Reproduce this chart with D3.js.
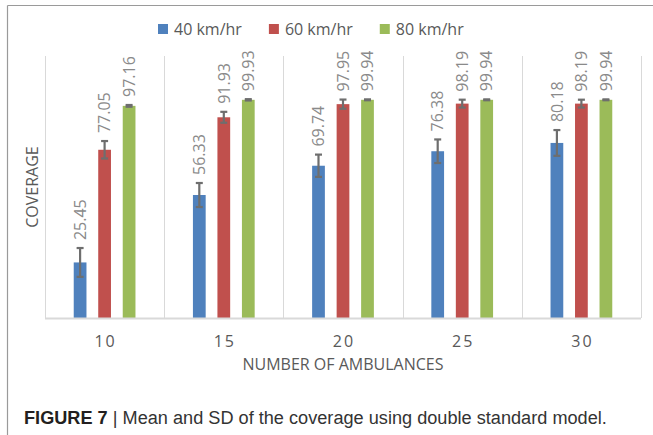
<!DOCTYPE html>
<html>
<head>
<meta charset="utf-8">
<script src="https://cdn.jsdelivr.net/npm/d3@7"></script>
<style>
  body { margin: 0; background: #fff; }
  svg { display: block; }
</style>
</head>
<body>
<script>
var categories = ["10", "15", "20", "25", "30"];
var seriesNames = ["40 km/hr", "60 km/hr", "80 km/hr"];
var speed40 = [25.45, 56.33, 69.74, 76.38, 80.18];
var speed60 = [77.05, 91.93, 97.95, 98.19, 98.19];
var speed80 = [97.16, 99.93, 99.94, 99.94, 99.94];
var sd40 = [6.6, 5.5, 5.1, 5.4, 5.9];
var sd60 = [4.0, 2.5, 2.1, 1.8, 1.8];
var sd80 = [0.4, 0.3, 0.2, 0.2, 0.2];
var colors = ["#4f81bd", "#c0504d", "#9bbb59"];

var w = 653;
var h = 435;
var plotLeft = 45, plotRight = 641, plotTop = 56, plotBottom = 318;

var means = [speed40, speed60, speed80];
var sds = [sd40, sd60, sd80];
var rows = [];
categories.forEach(function (c, i) {
    seriesNames.forEach(function (s, j) {
        rows.push({ cat: c, series: s, idx: j, value: means[j][i], sd: sds[j][i] });
    });
});

var svg = d3.select("body").append("svg").attr("width", w).attr("height", h);

// frame
svg.append("line").attr("x1", 7.5).attr("y1", 5.5).attr("x2", w).attr("y2", 5.5)
    .style("stroke", "#9a9a9a").style("stroke-width", 1.2);
svg.append("line").attr("x1", 7.5).attr("y1", 5.5).attr("x2", 7.5).attr("y2", h)
    .style("stroke", "#9a9a9a").style("stroke-width", 1.2);

var xScale = d3.scaleBand().domain(categories).range([plotLeft, plotRight]).padding(0);
var xInner = d3.scaleBand().domain(seriesNames).range([-36.75, 36.75]).paddingInner(0.48).paddingOuter(0.24);
var yScale = d3.scaleLinear().domain([0, 120]).range([plotBottom, plotTop]);

// vertical gridlines at category boundaries
var bounds = categories.map(function (c) { return xScale(c); }).concat([plotRight]);
svg.selectAll("line.grid")
    .data(bounds)
    .enter()
    .append("line")
    .attr("class", "grid")
    .attr("x1", function (d) { return Math.round(d) + 0.5; })
    .attr("x2", function (d) { return Math.round(d) + 0.5; })
    .attr("y1", plotTop)
    .attr("y2", plotBottom)
    .style("stroke", "#d9d9d9")
    .style("stroke-width", 1);

function barX(d) { return xScale(d.cat) + xScale.bandwidth() / 2 + xInner(d.series); }
function barC(d) { return barX(d) + xInner.bandwidth() / 2; }

// bars
svg.selectAll("rect.bar")
    .data(rows)
    .enter()
    .append("rect")
    .attr("class", "bar")
    .attr("x", barX)
    .attr("y", function (d) { return yScale(d.value); })
    .attr("width", xInner.bandwidth())
    .attr("height", function (d) { return plotBottom - yScale(d.value); })
    .attr("fill", function (d) { return colors[d.idx]; });

// x axis line
svg.append("line").attr("x1", plotLeft).attr("x2", plotRight).attr("y1", plotBottom + 0.5).attr("y2", plotBottom + 0.5)
    .style("stroke", "#d9d9d9").style("stroke-width", 2);

// error bars
var err = svg.append("g").attr("class", "err");
err.selectAll("line.stem")
    .data(rows)
    .enter()
    .append("line")
    .attr("class", "stem")
    .attr("x1", barC).attr("x2", barC)
    .attr("y1", function (d) { return yScale(d.value + d.sd); })
    .attr("y2", function (d) { return yScale(d.value - d.sd); })
    .style("stroke", "#6e6e6e").style("stroke-width", 2.2);
[["hi", 1], ["lo", -1]].forEach(function (p) {
    err.selectAll("line.cap-" + p[0])
        .data(rows)
        .enter()
        .append("line")
        .attr("class", "cap-" + p[0])
        .attr("x1", function (d) { return barC(d) - 3.5; })
        .attr("x2", function (d) { return barC(d) + 3.5; })
        .attr("y1", function (d) { return yScale(d.value + p[1] * d.sd); })
        .attr("y2", function (d) { return yScale(d.value + p[1] * d.sd); })
        .style("stroke", "#6e6e6e").style("stroke-width", 2.2);
});

// value labels
svg.selectAll("text.val")
    .data(rows)
    .enter()
    .append("text")
    .attr("class", "val")
    .attr("transform", function (d) {
        return "translate(" + barC(d) + "," + (yScale(d.value + d.sd) - 8) + ") rotate(-90)";
    })
    .attr("dy", "0.36em")
    .text(function (d) { return d.value.toFixed(2); })
    .attr("font-family", "Open Sans")
    .attr("font-size", "16px")
    .attr("fill", "#8a8a8a");

// x axis ticks
var xAxis = d3.axisBottom(xScale).tickSize(0).tickPadding(18);
var gx = svg.append("g").attr("transform", "translate(0," + plotBottom + ")").call(xAxis);
gx.select(".domain").remove();
gx.attr("font-family", "Open Sans").attr("font-size", "16px");
gx.selectAll("text")
    .attr("letter-spacing", "2px")
    .attr("dx", "1px")
    .attr("fill", "#595959");

// axis titles
svg.append("text")
    .attr("x", (plotLeft + plotRight) / 2)
    .attr("y", 370)
    .attr("text-anchor", "middle")
    .attr("font-family", "Open Sans")
    .attr("font-size", "16px")
    .attr("fill", "#595959")
    .text("NUMBER OF AMBULANCES");

svg.append("text")
    .attr("transform", "translate(38,187) rotate(-90)")
    .attr("text-anchor", "middle")
    .attr("font-family", "Open Sans")
    .attr("font-size", "16px")
    .attr("fill", "#595959")
    .text("COVERAGE");

// legend
var legend = svg.append("g");
var lx = 158;
seriesNames.forEach(function (s, j) {
    legend.append("rect").attr("x", lx).attr("y", 24).attr("width", 10).attr("height", 10).attr("fill", colors[j]);
    var t = legend.append("text")
        .attr("x", lx + 16)
        .attr("y", 35)
        .attr("font-family", "Open Sans")
        .attr("font-size", "16px")
        .attr("fill", "#595959")
        .text(s);
    lx = lx + 16 + t.node().getComputedTextLength() + 27;
});

// caption
var cap = svg.append("text")
    .attr("x", 0)
    .attr("y", 0)
    .attr("font-family", "Liberation Sans")
    .attr("font-size", "19px")
    .attr("fill", "#333");
cap.append("tspan").attr("font-weight", "bold").attr("fill", "#231f20").text("FIGURE 7");
cap.append("tspan").text(" | Mean and SD of the coverage using double standard model.");
var capW = cap.node().getComputedTextLength();
cap.attr("transform", "translate(24,424) scale(" + (583 / capW) + ",1)");
</script>
</body>
</html>
